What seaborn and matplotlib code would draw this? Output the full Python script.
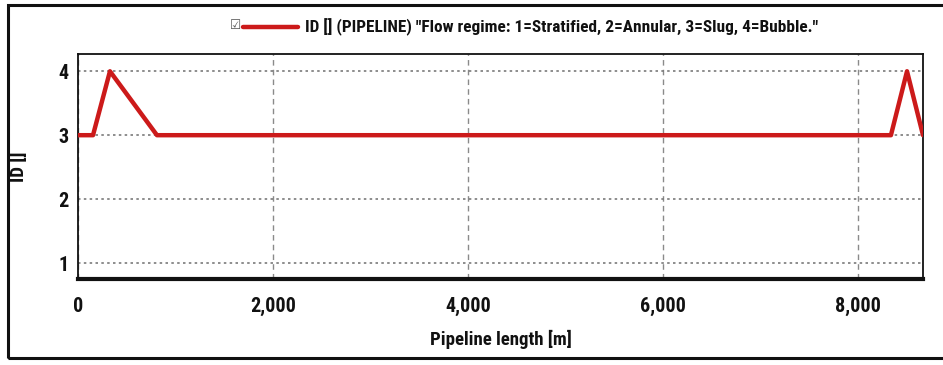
import matplotlib
matplotlib.use("Agg")
import matplotlib.pyplot as plt
from matplotlib.patches import Rectangle
import pandas as pd
import seaborn as sns

# Flow regime ID along the pipeline
length_m = [0, 154, 328, 810, 8338, 8503, 8667]
regime_id = [3, 3, 4, 3, 3, 4, 3]

x_ticks = [0, 2000, 4000, 6000, 8000]
x_tick_labels = ["0", "2,000", "4,000", "6,000", "8,000"]
y_ticks = [1, 2, 3, 4]

series_label = 'ID [] (PIPELINE) "Flow regime: 1=Stratified, 2=Annular, 3=Slug, 4=Bubble."'
x_label = "Pipeline length [m]"
y_label = "ID []"

sns.set_theme(style="white")
plt.rcParams["font.family"] = ["Roboto Condensed", "Liberation Sans", "DejaVu Sans"]
plt.rcParams["font.weight"] = "bold"

df = pd.DataFrame({"length": length_m, "id": regime_id})

fig = plt.figure(figsize=(9.43, 3.65), dpi=100)
ax = fig.add_axes([0.0827, 0.2356, 0.8961, 0.6164])

# grid: dashed verticals, dotted horizontals
for xv in x_ticks:
    ax.axvline(xv, color="#8a8a8a", lw=1.0, ls=(0, (4, 3)), zorder=0)
for yv in y_ticks:
    ax.axhline(yv, color="#7a7a7a", lw=1.2, ls=(0, (1.5, 2)), zorder=0)

sns.lineplot(data=df, x="length", y="id", ax=ax, color="#cc1a1a", lw=3.2,
             legend=False, zorder=3)

ax.set_xlim(0, 8667)
ax.set_ylim(0.75, 4.27)
ax.set_xticks(x_ticks)
ax.set_xticklabels(x_tick_labels)
ax.set_yticks(y_ticks)
ax.set_yticklabels([str(v) for v in y_ticks])
ax.tick_params(axis="both", labelsize=14.5, colors="#111111", length=0, pad=7)
ax.tick_params(axis="x", pad=13)
for lbl in ax.get_xticklabels() + ax.get_yticklabels():
    lbl.set_fontweight("bold")

ax.set_xlabel(x_label, fontsize=13.5, fontweight="bold", color="#111111", labelpad=10)
ax.set_ylabel(y_label, fontsize=13.5, fontweight="bold", color="#111111")
ax.yaxis.set_label_coords(-0.059, 0.5)

for side in ["top", "left", "right"]:
    ax.spines[side].set_color("#111111")
    ax.spines[side].set_linewidth(1.3)
ax.spines["bottom"].set_color("#111111")
ax.spines["bottom"].set_linewidth(3.0)

# legend row above the plot
fig.text(230 / 943, 1 - 25 / 365, "\u2611", fontsize=9, color="#555555",
         family="DejaVu Sans", ha="left", va="center")
fig.add_artist(plt.Line2D([243 / 943, 298 / 943], [1 - 27 / 365, 1 - 27 / 365],
                          color="#cc1a1a", lw=3.2, transform=fig.transFigure))
fig.text(305 / 943, 1 - 27 / 365, series_label, fontsize=12.45, fontweight="bold",
         color="#111111", ha="left", va="center")

# outer frame
fig.add_artist(Rectangle((8 / 943, 7 / 365), 1.05, 1 - 12 / 365, fill=False,
                         lw=2.2, edgecolor="#111111", transform=fig.transFigure,
                         clip_on=False))

fig.savefig("out.png", dpi=100)
